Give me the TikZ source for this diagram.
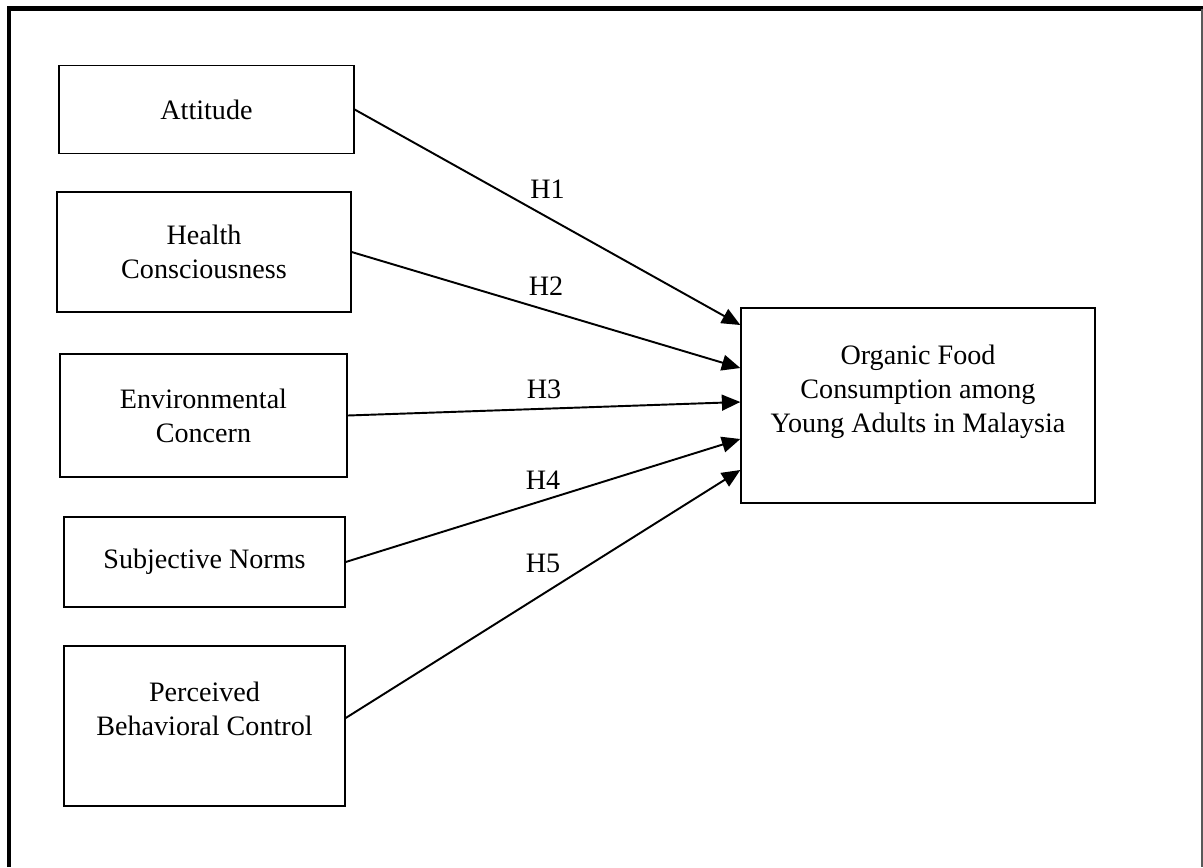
\documentclass[tikz,border=0pt]{standalone}
\usepackage{fontspec}
\setmainfont{Liberation Serif}
\usetikzlibrary{arrows.meta}

\begin{document}
\begin{tikzpicture}[x=0.02cm, y=-0.02cm,
        box/.style={draw, rectangle, line width=0.8pt, align=center, font=\fontsize{16}{19.4}\selectfont},
        link/.style={-{Triangle[length=10.5pt, width=9pt]}, line width=1.1pt},
        hyp/.style={midway, font=\fontsize{16}{19.4}\selectfont}]
        \useasboundingbox (0,0) rectangle (1203,867);
        \draw[line width=2.3pt] (9,867) -- (9,8.5) -- (1203,8.5);
        \draw[black!65, line width=0.8pt] (1202,8.5) -- (1202,867);

        \node[box, minimum width=5.9cm, minimum height=1.76cm] (attitude) at (206.5,109.5) {Attitude};
        \node[box, minimum width=5.88cm, minimum height=2.4cm] (health) at (204,252) {Health\\Consciousness};
        \node[box, minimum width=5.74cm, minimum height=2.46cm] (environment) at (203.5,415.5) {Environmental\\Concern};
        \node[box, minimum width=5.62cm, minimum height=1.8cm] (norms) at (204.5,562) {Subjective Norms};
        \node[box, minimum width=5.62cm, minimum height=3.2cm] (control) at (204.5,726) {Perceived\\Behavioral Control\\ \mbox{}};
        \node[box, minimum width=7.08cm, minimum height=3.9cm] (consumption) at (918,405.5) {Organic Food\\Consumption among\\Young Adults in Malaysia\\ \mbox{}};

        \draw[link] (attitude.east) -- node[hyp, above=7pt] {H1} ([yshift=1.61cm]consumption.west);
        \draw[link] (health.east) -- node[hyp, above=4.5pt] {H2} ([yshift=0.75cm]consumption.west);
        \draw[link] (environment.east) -- node[hyp, above=1.6pt] {H3} ([yshift=0.07cm]consumption.west);
        \draw[link] (norms.east) -- node[hyp, above=2.2pt] {H4} ([yshift=-0.67cm]consumption.west);
        \draw[link] ([yshift=0.16cm]control.east) -- node[hyp, above=8.4pt] {H5} ([yshift=-1.29cm]consumption.west);
    \end{tikzpicture}
\end{document}
